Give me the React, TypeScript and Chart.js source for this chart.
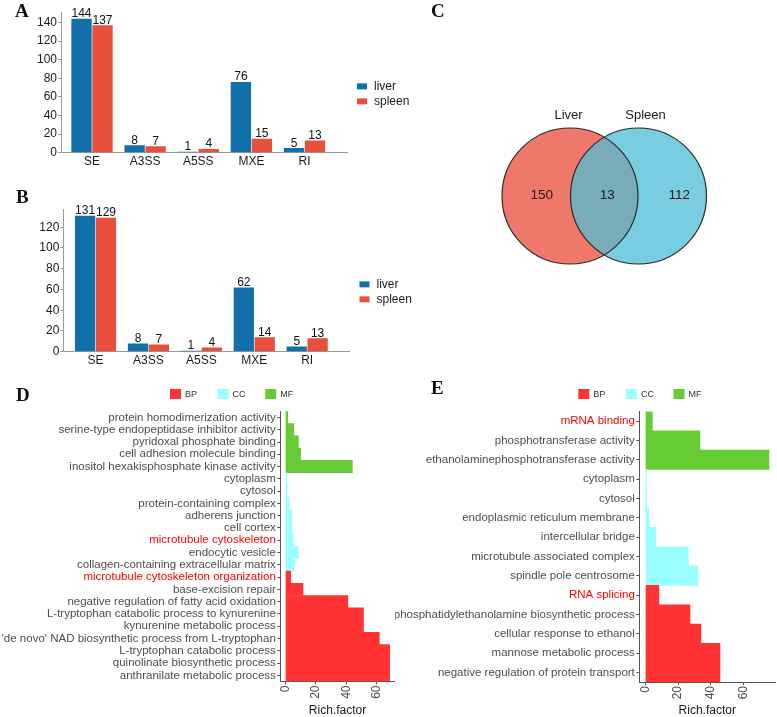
import React, { useEffect, useRef } from 'react';
import { Chart, registerables } from 'chart.js';

Chart.register(...registerables);

const SANS = '"Liberation Sans", Arial, Helvetica, sans-serif';
const SERIF = '"Liberation Serif", "Times New Roman", Times, serif';

// ---------- Panel A / B : alternative splicing events ----------
const spliceTypes = ['SE', 'A3SS', 'A5SS', 'MXE', 'RI'];
const tissues = ['liver', 'spleen'];
const aLiver = [144, 8, 1, 76, 5];
const aSpleen = [137, 7, 4, 15, 13];
const bLiver = [131, 8, 1, 62, 5];
const bSpleen = [129, 7, 4, 14, 13];
const aYTicks = [0, 20, 40, 60, 80, 100, 120, 140];
const bYTicks = [0, 20, 40, 60, 80, 100, 120];

// ---------- Panel C : Venn ----------
const vennSets = ['Liver', 'Spleen'];
const vennCounts = [150, 13, 112]; // liver only, shared, spleen only

// ---------- Panel D / E : GO enrichment ----------
const goTypes = ['BP', 'CC', 'MF'];
const richTicks = [0, 20, 40, 60];

const dTerms = [
  'protein homodimerization activity',
  'serine-type endopeptidase inhibitor activity',
  'pyridoxal phosphate binding',
  'cell adhesion molecule binding',
  'inositol hexakisphosphate kinase activity',
  'cytoplasm',
  'cytosol',
  'protein-containing complex',
  'adherens junction',
  'cell cortex',
  'microtubule cytoskeleton',
  'endocytic vesicle',
  'collagen-containing extracellular matrix',
  'microtubule cytoskeleton organization',
  'base-excision repair',
  'negative regulation of fatty acid oxidation',
  'L-tryptophan catabolic process to kynurenine',
  'kynurenine metabolic process',
  "'de novo' NAD biosynthetic process from L-tryptophan",
  'L-tryptophan catabolic process',
  'quinolinate biosynthetic process',
  'anthranilate metabolic process',
];
const dTypes = [
  'MF', 'MF', 'MF', 'MF', 'MF',
  'CC', 'CC', 'CC', 'CC', 'CC', 'CC', 'CC', 'CC',
  'BP', 'BP', 'BP', 'BP', 'BP', 'BP', 'BP', 'BP', 'BP',
];
const dRich = [
  1.5, 5.5, 8.5, 10, 44,
  0.8, 1.2, 2.3, 4.2, 4.3, 5.1, 8.4, 5.8,
  3.4, 11.5, 41, 51.3, 51.3, 61.7, 68.5, 68.5, 68.5,
];
const dHighlighted = ['microtubule cytoskeleton', 'microtubule cytoskeleton organization'];

const eTerms = [
  'mRNA binding',
  'phosphotransferase activity',
  'ethanolaminephosphotransferase activity',
  'cytoplasm',
  'cytosol',
  'endoplasmic reticulum membrane',
  'intercellular bridge',
  'microtubule associated complex',
  'spindle pole centrosome',
  'RNA splicing',
  'phosphatidylethanolamine biosynthetic process',
  'cellular response to ethanol',
  'mannose metabolic process',
  'negative regulation of protein transport',
];
const eTypes = [
  'MF', 'MF', 'MF',
  'CC', 'CC', 'CC', 'CC', 'CC', 'CC',
  'BP', 'BP', 'BP', 'BP', 'BP',
];
const eRich = [4.2, 33.4, 75.8, 0.7, 0.8, 2, 6.2, 26.3, 32.3, 8.2, 27.3, 34, 45.7, 45.7];
const eHighlighted = ['mRNA binding', 'RNA splicing'];

// ---------- styles ----------
const TISSUE_COLORS = ['#1170AA', '#E8503D'];
const GO_COLORS: Record<string, string> = { BP: '#FF3333', CC: '#99FFFF', MF: '#66CC33' };
const VENN_COLORS = ['#F0786A', '#78CDE1'];
const VENN_OVERLAP = '#78ACBA';

type Area = { left: number; top: number; right: number; bottom: number };

const valueLabels = {
  id: 'valueLabels',
  afterDatasetsDraw(chart: any) {
    const { ctx } = chart;
    ctx.save();
    ctx.font = `12px ${SANS}`;
    ctx.fillStyle = '#111';
    ctx.textAlign = 'center';
    ctx.textBaseline = 'alphabetic';
    chart.data.datasets.forEach((ds: any, di: number) => {
      const meta = chart.getDatasetMeta(di);
      meta.data.forEach((el: any, i: number) => {
        ctx.fillText(String(ds.data[i].y), el.x, el.y - 1.5);
      });
    });
    ctx.restore();
  },
};

function seriesKey() {
  return {
    id: 'seriesKey',
    afterDraw(chart: any) {
      const { ctx, chartArea } = chart;
      const n = chart.data.datasets.length;
      const cy = (chartArea.top + chartArea.bottom) / 2 + 11.5;
      ctx.save();
      chart.data.datasets.forEach((ds: any, i: number) => {
        const y = cy + (i - (n - 1) / 2) * 15;
        const x = chartArea.right + 10;
        ctx.fillStyle = ds.backgroundColor;
        ctx.fillRect(x, y - 3, 10, 6);
        ctx.fillStyle = '#1a1a1a';
        ctx.font = `12px ${SANS}`;
        ctx.textAlign = 'left';
        ctx.textBaseline = 'middle';
        ctx.fillText(ds.label, x + 17, y);
      });
      ctx.restore();
    },
  };
}

function goKey(x0: number) {
  return {
    id: 'goKey',
    afterDraw(chart: any) {
      const { ctx } = chart;
      ctx.save();
      goTypes.forEach((t, i) => {
        const x = x0 + i * 47.6;
        ctx.fillStyle = GO_COLORS[t];
        ctx.fillRect(x, 9, 11, 10);
        ctx.fillStyle = '#333';
        ctx.font = `9px ${SANS}`;
        ctx.textAlign = 'left';
        ctx.textBaseline = 'middle';
        ctx.fillText(t, x + 15, 14.5);
      });
      ctx.restore();
    },
  };
}

function spliceChart(
  canvas: HTMLCanvasElement,
  liver: number[],
  spleen: number[],
  yMax: number,
  yTicks: number[],
  xMin: number,
  xMax: number,
  W: number,
  H: number,
  area: Area
) {
  return new Chart(canvas, {
    type: 'bar',
    data: {
      datasets: [liver, spleen].map((vals, k) => ({
        label: tissues[k],
        data: vals.map((y, x) => ({ x, y })),
        backgroundColor: TISSUE_COLORS[k],
        borderWidth: 0,
        categoryPercentage: 0.79,
        barPercentage: 0.97,
      })),
    },
    options: {
      animation: false,
      responsive: false,
      devicePixelRatio: 1,
      events: [],
      layout: { autoPadding: false, padding: { left: 0, top: area.top, right: W - area.right, bottom: 0 } },
      plugins: { legend: { display: false }, tooltip: { enabled: false } },
      scales: {
        x: {
          type: 'linear',
          min: xMin,
          max: xMax,
          offset: false,
          afterBuildTicks: (s: any) => {
            s.ticks = spliceTypes.map((_, i) => ({ value: i }));
          },
          afterFit: (s: any) => {
            s.height = H - area.bottom;
          },
          grid: { display: false, drawTicks: false },
          border: { display: true, color: '#9a9a9a', width: 1 },
          ticks: {
            padding: 2,
            color: '#1a1a1a',
            font: { size: 12 },
            maxRotation: 0,
            autoSkip: false,
            callback: (v: any) => spliceTypes[v] ?? '',
          },
        },
        y: {
          type: 'linear',
          min: 0,
          max: yMax,
          afterBuildTicks: (s: any) => {
            s.ticks = yTicks.map((v) => ({ value: v }));
          },
          afterFit: (s: any) => {
            s.width = area.left;
          },
          grid: { display: true, drawOnChartArea: false, drawTicks: true, tickLength: 3, color: '#9a9a9a' },
          border: { display: true, color: '#9a9a9a', width: 1 },
          ticks: { padding: 1, color: '#1a1a1a', font: { size: 12 } },
        },
      },
    } as any,
    plugins: [valueLabels, seriesKey()],
  });
}

function goChart(
  canvas: HTMLCanvasElement,
  terms: string[],
  types: string[],
  rich: number[],
  highlighted: string[],
  xMin: number,
  xMax: number,
  W: number,
  H: number,
  area: Area,
  legendX: number
) {
  return new Chart(canvas, {
    type: 'bar',
    data: {
      labels: terms,
      datasets: [
        {
          label: 'Rich.factor',
          data: rich,
          backgroundColor: types.map((t) => GO_COLORS[t]),
          borderWidth: 0,
          barPercentage: 1,
          categoryPercentage: 1,
        },
      ],
    },
    options: {
      indexAxis: 'y',
      animation: false,
      responsive: false,
      devicePixelRatio: 1,
      events: [],
      layout: { autoPadding: false, padding: { left: 0, top: area.top, right: W - area.right, bottom: 0 } },
      plugins: { legend: { display: false }, tooltip: { enabled: false } },
      scales: {
        y: {
          type: 'category',
          offset: true,
          afterFit: (s: any) => {
            s.width = area.left;
          },
          grid: { display: true, offset: false, drawOnChartArea: false, tickLength: 3, color: '#555' },
          border: { display: true, color: '#555', width: 1 },
          ticks: {
            autoSkip: false,
            padding: 1.5,
            font: { size: 11.5 },
            color: (c: any) => (highlighted.includes(terms[c.index]) ? '#FF0000' : '#4D4D4D'),
          },
        },
        x: {
          type: 'linear',
          min: xMin,
          max: xMax,
          afterBuildTicks: (s: any) => {
            s.ticks = richTicks.map((v) => ({ value: v }));
          },
          afterFit: (s: any) => {
            s.height = H - area.bottom;
          },
          grid: { display: true, drawOnChartArea: false, tickLength: 3, color: '#555' },
          border: { display: true, color: '#555', width: 1 },
          ticks: {
            minRotation: 90,
            maxRotation: 90,
            autoSkip: false,
            padding: 1,
            font: { size: 12 },
            color: '#4D4D4D',
          },
          title: {
            display: true,
            text: 'Rich.factor',
            color: '#1a1a1a',
            font: { size: 12, lineHeight: 1 },
            padding: { top: 0, bottom: 0 },
          },
        },
      },
    } as any,
    plugins: [goKey(legendX)],
  });
}

const vennPlugin = {
  id: 'venn',
  afterDatasetsDraw(chart: any) {
    const { ctx } = chart;
    const meta = chart.getDatasetMeta(0);
    const a = meta.data[0];
    const b = meta.data[1];
    const r = a.options.radius;
    ctx.save();
    ctx.beginPath();
    ctx.arc(a.x, a.y, r, 0, Math.PI * 2);
    ctx.clip();
    ctx.beginPath();
    ctx.arc(b.x, b.y, r, 0, Math.PI * 2);
    ctx.fillStyle = VENN_OVERLAP;
    ctx.fill();
    ctx.restore();

    ctx.save();
    ctx.strokeStyle = '#2a2a2a';
    ctx.lineWidth = 1.2;
    [a, b].forEach((p: any) => {
      ctx.beginPath();
      ctx.arc(p.x, p.y, r, 0, Math.PI * 2);
      ctx.stroke();
    });

    ctx.fillStyle = '#1a1a1a';
    ctx.textAlign = 'center';
    ctx.textBaseline = 'alphabetic';
    ctx.font = `13px ${SANS}`;
    ctx.fillText(vennSets[0], a.x - 1.5, a.y - r - 9);
    ctx.fillText(vennSets[1], b.x + 7, b.y - r - 9);

    ctx.font = `13.5px ${SANS}`;
    const cy = a.y + 3;
    ctx.fillText(String(vennCounts[0]), a.x - 0.416 * r, cy);
    ctx.fillText(String(vennCounts[1]), (a.x + b.x) / 2 + 3, cy);
    ctx.fillText(String(vennCounts[2]), b.x + 0.6 * r, cy);
    ctx.restore();
  },
};

function vennChart(canvas: HTMLCanvasElement) {
  return new Chart(canvas, {
    type: 'scatter',
    data: {
      datasets: [
        {
          label: vennSets.join(' / '),
          data: [
            { x: -0.5, y: 0 },
            { x: 0.5, y: 0 },
          ],
          pointRadius: 68,
          pointBackgroundColor: VENN_COLORS,
          pointBorderWidth: 0,
          pointBorderColor: 'rgba(0,0,0,0)',
        },
      ],
    },
    options: {
      animation: false,
      responsive: false,
      devicePixelRatio: 1,
      events: [],
      layout: { autoPadding: false, padding: 0 },
      plugins: { legend: { display: false }, tooltip: { enabled: false } },
      scales: {
        x: { type: 'linear', display: false, min: -2.5438, max: 2.5219 },
        y: { type: 'linear', display: false, min: -2.3942, max: 2.8613 },
      },
    } as any,
    plugins: [vennPlugin],
  });
}

const letterStyle = (left: number, top: number): React.CSSProperties => ({
  position: 'absolute',
  left,
  top,
  fontFamily: SERIF,
  fontWeight: 'bold',
  fontSize: 19,
  lineHeight: '19px',
  color: '#111',
});

export default function App() {
  const aRef = useRef<HTMLCanvasElement>(null);
  const bRef = useRef<HTMLCanvasElement>(null);
  const cRef = useRef<HTMLCanvasElement>(null);
  const dRef = useRef<HTMLCanvasElement>(null);
  const eRef = useRef<HTMLCanvasElement>(null);

  useEffect(() => {
    Chart.defaults.font.family = SANS;
    Chart.defaults.color = '#1a1a1a';
    const charts: Chart[] = [];
    if (aRef.current)
      charts.push(
        spliceChart(aRef.current, aLiver, aSpleen, 151.2, aYTicks, -0.584, 4.8, 420, 180, {
          left: 61,
          top: 12,
          right: 347,
          bottom: 152.7,
        })
      );
    if (bRef.current)
      charts.push(
        spliceChart(bRef.current, bLiver, bSpleen, 137.55, bYTicks, -0.609, 4.8, 420, 195, {
          left: 63.3,
          top: 29,
          right: 349.5,
          bottom: 171.7,
        })
      );
    if (cRef.current) charts.push(vennChart(cRef.current));
    if (dRef.current)
      charts.push(
        goChart(dRef.current, dTerms, dTypes, dRich, dHighlighted, -3.4, 71.9, 400, 337, {
          left: 280.3,
          top: 31.3,
          right: 394.8,
          bottom: 301.5,
        }, 170)
      );
    if (eRef.current)
      charts.push(
        goChart(eRef.current, eTerms, eTypes, eRich, eHighlighted, -3.8, 79.6, 382, 337, {
          left: 244.3,
          top: 31.5,
          right: 380.2,
          bottom: 302,
        }, 183.3)
      );
    return () => charts.forEach((c) => c.destroy());
  }, []);

  return (
    <div
      style={{
        position: 'absolute',
        left: 0,
        top: 0,
        width: 777,
        height: 717,
        overflow: 'hidden',
        background: '#fff',
      }}
    >
      <canvas ref={aRef} width={420} height={180} style={{ position: 'absolute', left: 0, top: 0 }} />
      <canvas ref={bRef} width={420} height={195} style={{ position: 'absolute', left: 0, top: 180 }} />
      <canvas ref={cRef} width={347} height={360} style={{ position: 'absolute', left: 430, top: 0 }} />
      <canvas ref={dRef} width={400} height={337} style={{ position: 'absolute', left: 0, top: 380 }} />
      <canvas ref={eRef} width={382} height={337} style={{ position: 'absolute', left: 395, top: 380 }} />
      <div style={letterStyle(15, 0.8)}>A</div>
      <div style={letterStyle(16, 187)}>B</div>
      <div style={letterStyle(431, 0.8)}>C</div>
      <div style={letterStyle(16, 385)}>D</div>
      <div style={letterStyle(431, 378)}>E</div>
    </div>
  );
}
